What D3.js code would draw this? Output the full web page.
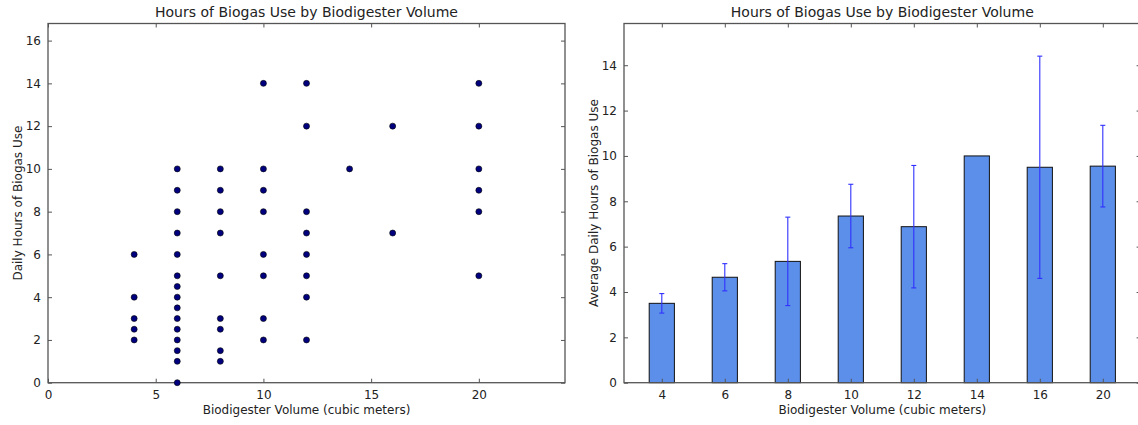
<!DOCTYPE html>
<html><head><meta charset="utf-8">
<script src="https://cdn.jsdelivr.net/npm/d3@7"></script>
<style>body{margin:0;background:#fff}svg{display:block}text{font-family:"DejaVu Sans",sans-serif;fill:#222}</style>
</head><body>
<svg id="chart" width="1138" height="425"></svg>
<script>
// Scatter data (left panel)
const scatterVolumes = [4,4,4,4,4, 6,6,6,6,6,6,6,6,6,6,6,6,6,6,6, 8,8,8,8,8,8,8,8,8, 10,10,10,10,10,10,10,10, 12,12,12,12,12,12,12,12, 14, 16,16, 20,20,20,20,20,20];
const scatterHours   = [6,4,3,2.5,2, 10,9,8,7,6,5,4.5,4,3.5,3,2.5,2,1.5,1,0, 10,9,8,7,5,3,2.5,1.5,1, 14,10,9,8,6,5,3,2, 14,12,8,7,6,5,4,2, 10, 12,7, 14,12,10,9,8,5];
const scatterXTicks = [0,5,10,15,20];
const scatterYTicks = [0,2,4,6,8,10,12,14,16];
// Bar data (right panel)
const barCategories = ["4","6","8","10","12","14","16","20"];
const barMeans  = [3.5, 4.65, 5.35, 7.35, 6.88, 10.0, 9.5, 9.55];
const barErrors = [0.43, 0.6, 1.95, 1.4, 2.7, 0, 4.9, 1.8];
const barYTicks = [0,2,4,6,8,10,12,14];

const title = "Hours of Biogas Use by Biodigester Volume";
const xLabel = "Biodigester Volume (cubic meters)";

const svg = d3.select("#chart");
const frameColor = "#555";
const tickLen = 4;

function frame(g, x0, x1, y0, y1){
  g.append("rect").attr("x",x0).attr("y",y0).attr("width",x1-x0).attr("height",y1-y0)
   .attr("fill","none").attr("stroke",frameColor).attr("stroke-width",1.3);
}

// ---------- Left scatter ----------
{
  const L=48,R=565,T=23.5,B=382.7;
  const x = d3.scaleLinear().domain([0,24]).range([L,R]);
  const y = d3.scaleLinear().domain([0,16.8]).range([B,T]);
  const g = svg.append("g");
  const xb = g.append("g").attr("transform",`translate(0,${B})`)
    .call(d3.axisBottom(x).tickValues(scatterXTicks).tickSizeInner(-tickLen).tickSizeOuter(0).tickPadding(8));
  const xt = g.append("g").attr("transform",`translate(0,${T})`)
    .call(d3.axisTop(x).tickValues(scatterXTicks).tickSizeInner(-tickLen).tickSizeOuter(0).tickFormat(""));
  const yl = g.append("g").attr("transform",`translate(${L},0)`)
    .call(d3.axisLeft(y).tickValues(scatterYTicks).tickSizeInner(-tickLen).tickSizeOuter(0).tickPadding(7));
  const yr = g.append("g").attr("transform",`translate(${R},0)`)
    .call(d3.axisRight(y).tickValues(scatterYTicks).tickSizeInner(-tickLen).tickSizeOuter(0).tickFormat(""));
  [xb,xt,yl,yr].forEach(a=>{a.select(".domain").remove();a.selectAll("line").attr("stroke",frameColor);a.selectAll("text").attr("font-size",12).attr("fill","#222").attr("font-family","DejaVu Sans");});
  frame(g,L,R,T,B);
  g.selectAll("circle.pt").data(scatterVolumes.map((v,i)=>[v,scatterHours[i]])).join("circle")
    .attr("class","pt").attr("cx",d=>x(d[0])).attr("cy",d=>y(d[1])).attr("r",3)
    .attr("fill","#00007f").attr("stroke","#000").attr("stroke-width",0.6);
  g.append("text").attr("x",(L+R)/2).attr("y",17).attr("text-anchor","middle").attr("font-size",14).text(title);
  g.append("text").attr("x",(L+R)/2).attr("y",414).attr("text-anchor","middle").attr("font-size",12).text(xLabel);
  g.append("text").attr("transform",`translate(22,${(T+B)/2}) rotate(-90)`).attr("text-anchor","middle").attr("font-size",12).text("Daily Hours of Biogas Use");
}

// ---------- Right bar chart ----------
{
  const L=624,T=23.5,B=382.7;
  const x = d3.scaleLinear().domain([-0.6,7.6]).range([L,L+8.2*63]);
  const R = x(7.6);
  const y = d3.scaleLinear().domain([0,15.84]).range([B,T]);
  const g = svg.append("g");
  const idx = barCategories.map((c,i)=>i);
  const barW = 0.4;
  g.selectAll("rect.bar").data(idx).join("rect").attr("class","bar")
    .attr("x",i=>x(i-barW/2)).attr("width",i=>x(i+barW/2)-x(i-barW/2))
    .attr("y",i=>y(barMeans[i])).attr("height",i=>B-y(barMeans[i]))
    .attr("fill","#5b8fe9").attr("stroke","#111").attr("stroke-width",1);
  const eb = g.selectAll("g.err").data(idx.filter(i=>barErrors[i]>0)).join("g").attr("class","err")
    .attr("stroke","#3030ff").attr("stroke-width",1.1);
  eb.append("line").attr("x1",i=>x(i)).attr("x2",i=>x(i)).attr("y1",i=>y(barMeans[i]-barErrors[i])).attr("y2",i=>y(barMeans[i]+barErrors[i]));
  eb.append("line").attr("x1",i=>x(i)-2.5).attr("x2",i=>x(i)+2.5).attr("y1",i=>y(barMeans[i]+barErrors[i])).attr("y2",i=>y(barMeans[i]+barErrors[i]));
  eb.append("line").attr("x1",i=>x(i)-2.5).attr("x2",i=>x(i)+2.5).attr("y1",i=>y(barMeans[i]-barErrors[i])).attr("y2",i=>y(barMeans[i]-barErrors[i]));
  const xb = g.append("g").attr("transform",`translate(0,${B})`)
    .call(d3.axisBottom(x).tickValues(idx).tickFormat(i=>barCategories[i]).tickSizeInner(-tickLen).tickSizeOuter(0).tickPadding(8));
  const xt = g.append("g").attr("transform",`translate(0,${T})`)
    .call(d3.axisTop(x).tickValues(idx).tickSizeInner(-tickLen).tickSizeOuter(0).tickFormat(""));
  const yl = g.append("g").attr("transform",`translate(${L},0)`)
    .call(d3.axisLeft(y).tickValues(barYTicks).tickSizeInner(-tickLen).tickSizeOuter(0).tickPadding(7));
  const yr = g.append("g").attr("transform",`translate(${R},0)`)
    .call(d3.axisRight(y).tickValues(barYTicks).tickSizeInner(-tickLen).tickSizeOuter(0).tickFormat(""));
  [xb,xt,yl,yr].forEach(a=>{a.select(".domain").remove();a.selectAll("line").attr("stroke",frameColor);a.selectAll("text").attr("font-size",12).attr("fill","#222").attr("font-family","DejaVu Sans");});
  frame(g,L,R,T,B);
  g.append("text").attr("x",(L+R)/2).attr("y",17).attr("text-anchor","middle").attr("font-size",14).text(title);
  g.append("text").attr("x",(L+R)/2).attr("y",414).attr("text-anchor","middle").attr("font-size",12).text(xLabel);
  g.append("text").attr("transform",`translate(598,${(T+B)/2}) rotate(-90)`).attr("text-anchor","middle").attr("font-size",12).text("Average Daily Hours of Biogas Use");
}
</script>
</body></html>
